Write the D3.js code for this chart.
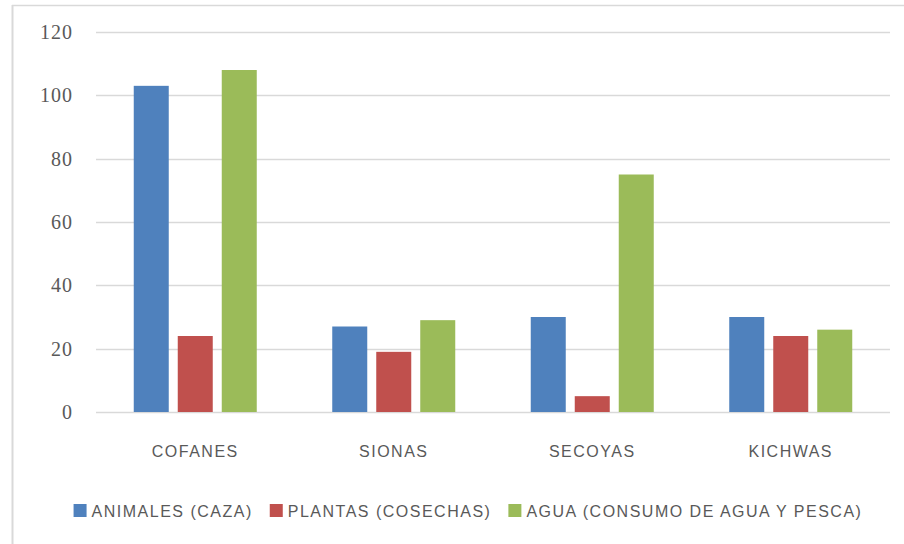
<!DOCTYPE html>
<html>
<head>
<meta charset="utf-8">
<script src="https://cdn.jsdelivr.net/npm/d3@7/dist/d3.min.js"></script>
<style>
  html, body { margin: 0; padding: 0; background: #fff; }
  svg { display: block; }
</style>
</head>
<body>
<svg id="chart" width="904" height="544"></svg>
<script>
const categories = ["COFANES", "SIONAS", "SECOYAS", "KICHWAS"];
const seriesNames = ["ANIMALES (CAZA)", "PLANTAS (COSECHAS)", "AGUA (CONSUMO DE AGUA Y PESCA)"];
const animales = [103, 27, 30, 30];
const plantas = [24, 19, 5, 24];
const agua = [108, 29, 75, 26];
const yTicks = [0, 20, 40, 60, 80, 100, 120];
const colors = ["#4F81BD", "#C0504D", "#9BBB59"];

const seriesValues = [animales, plantas, agua];
const svg = d3.select("#chart");
const W = 904, H = 544;
const margin = { left: 96, right: 14, top: 32, bottom: 132 };
const plotW = W - margin.left - margin.right;
const plotH = H - margin.top - margin.bottom;

// outer chart border (left + top visible)
svg.append("line").attr("x1", 12.5).attr("x2", 12.5).attr("y1", 5).attr("y2", H)
  .attr("stroke", "#d9d9d9").attr("stroke-width", 2);
svg.append("line").attr("x1", 12).attr("x2", W).attr("y1", 5.5).attr("y2", 5.5)
  .attr("stroke", "#d9d9d9").attr("stroke-width", 1.5);

const g = svg.append("g").attr("transform", `translate(${margin.left},${margin.top})`);

const x0 = d3.scaleBand().domain(categories).range([0, plotW]).paddingInner(0).paddingOuter(0);
const groupFrac = 123 / 198.5;
const y = d3.scaleLinear().domain([0, 120]).range([plotH, 0]);

// gridlines
g.append("g").selectAll("line").data(yTicks).join("line")
  .attr("x1", 0).attr("x2", plotW)
  .attr("y1", d => Math.round(y(d)) + 0.5).attr("y2", d => Math.round(y(d)) + 0.5)
  .attr("stroke", "#d9d9d9").attr("stroke-width", 1.5);

// y tick labels
g.append("g").selectAll("text").data(yTicks).join("text")
  .attr("x", -23)
  .attr("y", d => y(d) + 7)
  .attr("text-anchor", "end")
  .attr("font-family", "'Liberation Serif', 'DejaVu Serif', serif")
  .attr("font-size", 20)
  .attr("fill", "#595959")
  .style("letter-spacing", "1px")
  .text(d => d);

// bars
const groupW = x0.bandwidth() * groupFrac;
const barW = groupW * 35 / 123;
const gapW = (groupW - 3 * barW) / 2;
const x1 = d3.scaleBand().domain(d3.range(3)).range([0, groupW]).paddingInner(gapW / (barW + gapW)).paddingOuter(0);

const rows = [];
categories.forEach((c, ci) => {
  seriesValues.forEach((vals, si) => rows.push({ cat: c, s: si, v: vals[ci] }));
});

g.append("g").selectAll("rect").data(rows).join("rect")
  .attr("x", d => x0(d.cat) + (x0.bandwidth() - groupW) / 2 + x1(d.s))
  .attr("width", x1.bandwidth())
  .attr("y", d => y(d.v))
  .attr("height", d => y(0) - y(d.v))
  .attr("fill", d => colors[d.s]);

// category labels
g.append("g").selectAll("text").data(categories).join("text")
  .attr("x", d => x0(d) + x0.bandwidth() / 2)
  .attr("y", plotH + 45)
  .attr("text-anchor", "middle")
  .attr("font-family", "'Liberation Sans', Arial, sans-serif")
  .attr("font-size", 16)
  .attr("fill", "#595959")
  .style("letter-spacing", "1.5px")
  .text(d => d);

// legend
const legend = svg.append("g");
const items = legend.selectAll("g").data(seriesNames).join("g");
items.append("rect").attr("width", 13).attr("height", 13).attr("y", 504)
  .attr("fill", (d, i) => colors[i]);
items.append("text")
  .attr("y", 517)
  .attr("font-family", "'Liberation Sans', Arial, sans-serif")
  .attr("font-size", 16)
  .attr("fill", "#595959")
  .style("letter-spacing", "1.5px")
  .text(d => d);
const widths = [];
items.each(function () { widths.push(this.querySelector("text").getComputedTextLength()); });
const sqGap = 5, itemGap = 17;
const total = d3.sum(widths) + widths.length * (13 + sqGap) + (widths.length - 1) * itemGap;
let cx = 468 - total / 2;
items.each(function (d, i) {
  const sel = d3.select(this);
  sel.select("rect").attr("x", cx);
  sel.select("text").attr("x", cx + 13 + sqGap);
  cx += 13 + sqGap + widths[i] + itemGap;
});
</script>
</body>
</html>
